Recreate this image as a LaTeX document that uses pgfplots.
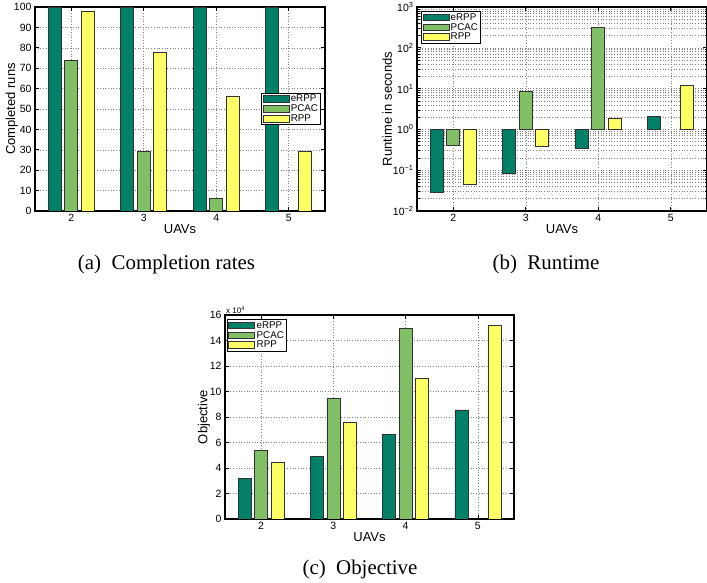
\documentclass[border=0pt]{standalone}
\usepackage{fontspec}
\setmainfont{Liberation Serif}
\setsansfont{Liberation Sans}
\usepackage{pgfplots}
\pgfplotsset{compat=1.18}
\definecolor{cE}{rgb}{0,0.5,0.4}
\definecolor{cP}{rgb}{0.5,0.75,0.4}
\definecolor{cR}{rgb}{1,1,0.4}
\newcommand\ticksz{\fontsize{10.5bp}{12bp}\selectfont\sffamily}
\newcommand\labsz{\fontsize{13bp}{14bp}\selectfont\sffamily}
\newcommand\legsz{\fontsize{9.8bp}{11bp}\selectfont\sffamily}
\newcommand\capsz{\fontsize{20.9bp}{24bp}\selectfont\rmfamily}
\pgfplotsset{
  mystyle/.style={
    scale only axis, width=290bp, height=204bp,
    xmin=1.5, xmax=5.5, xtick={2,3,4,5},
    ybar=3.5bp, bar width=13bp,
    axis line style={line width=1.1bp},
    tick style={line width=0.6bp, black},
    major tick length=4bp, minor tick length=2.5bp, tick align=inside,
    xmajorgrids=true, ymajorgrids=true,
    grid style={dash pattern=on 0.7bp off 2bp, gray, line width=0.5bp},
    tick label style={font=\ticksz},
    label style={font=\labsz},
    /pgf/number format/assume math mode=true,
    legend style={font=\legsz, draw=black, line width=0.9bp, inner sep=1bp,
      cells={anchor=west}, nodes={inner ysep=0.8bp, inner xsep=1.5bp}},
    legend image code/.code={\draw[#1,line width=0.7bp] (0bp,-3.4bp) rectangle (26bp,3.4bp);},
    xlabel=UAVs,
    xlabel style={at={(axis description cs:0.5,0)}, anchor=center, yshift=-18bp},
    every axis plot/.append style={draw=black!80, line width=0.7bp},
  }
}
\begin{document}
\begin{tikzpicture}
\useasboundingbox (0,0) rectangle (707bp,583bp);
% (a)
\begin{axis}[mystyle, at={(35bp,372bp)}, anchor=south west,
  ymin=0, ymax=100, ytick={0,10,...,100},
  ylabel={Completed runs},
  ylabel style={at={(axis description cs:-0.08,0.5)}, anchor=center},
  legend style={at={(0.986,0.5)}, anchor=east}]
\addplot[fill=cE] coordinates {(2,100) (3,100) (4,100) (5,100)};
\addplot[fill=cP] coordinates {(2,74) (3,29) (4,6)};
\addplot[fill=cR] coordinates {(2,98) (3,78) (4,56) (5,29)};
\legend{eRPP,PCAC,RPP}
\end{axis}
% (b)
\begin{axis}[mystyle, at={(417bp,372bp)}, anchor=south west,
  ymode=log, log origin=0, ymin=0.01, ymax=1000,
  ytick={0.01,0.1,1,10,100,1000},
  yticklabels={10\textsuperscript{−2},10\textsuperscript{−1},10\textsuperscript{0},10\textsuperscript{1},10\textsuperscript{2},10\textsuperscript{3}},
  yminorgrids=true, minor grid style={dash pattern=on 0.7bp off 2bp, gray, line width=0.5bp},
  ylabel={Runtime in seconds},
  ylabel style={at={(axis description cs:-0.103,0.5)}, anchor=center},
  legend style={at={(0.014,0.98)}, anchor=north west}]
\addplot[fill=cE] coordinates {(2,0.028) (3,0.082) (4,0.34) (5,2.05)};
\addplot[fill=cP] coordinates {(2,0.41) (3,8.4) (4,310)};
\addplot[fill=cR] coordinates {(2,0.045) (3,0.38) (4,1.86) (5,11.8)};
\legend{eRPP,PCAC,RPP}
\end{axis}
% (c)
\begin{axis}[mystyle, at={(225bp,64bp)}, anchor=south west, width=289bp,
  ymin=0, ymax=160000, ytick={0,20000,...,160000},
  scaled y ticks=base 10:-4,
  ytick scale label code/.code={x 10\textsuperscript{4}},
  every y tick scale label/.style={at={(axis description cs:0,1)}, anchor=south west, inner sep=1pt, font=\fontsize{8bp}{9bp}\selectfont\sffamily},
  ylabel={Objective},
  ylabel style={at={(axis description cs:-0.073,0.5)}, anchor=center},
  legend style={at={(0.007,0.98)}, anchor=north west}]
\addplot[fill=cE] coordinates {(2,31800) (3,49000) (4,66500) (5,85600)};
\addplot[fill=cP] coordinates {(2,53500) (3,94700) (4,149800)};
\addplot[fill=cR] coordinates {(2,44100) (3,76000) (4,110400) (5,151600)};
\legend{eRPP,PCAC,RPP}
\end{axis}
\node[font=\capsz] at (166.5bp,319bp) {(a)\hspace{0.25em} Completion rates};
\node[font=\capsz] at (546bp,319bp) {(b)\hspace{0.25em} Runtime};
\node[font=\capsz] at (360bp,14bp) {(c)\hspace{0.25em} Objective};
\end{tikzpicture}
\end{document}
